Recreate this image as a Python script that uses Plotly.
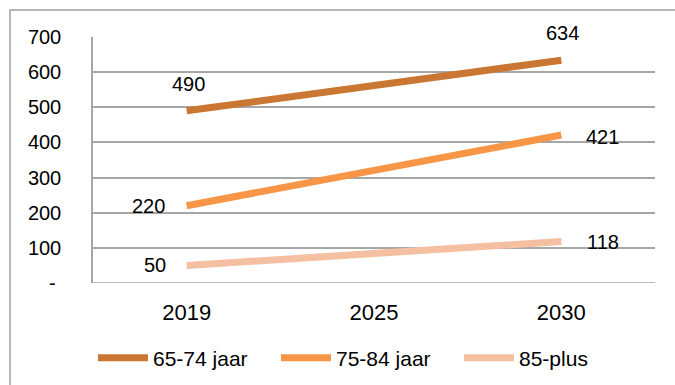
import plotly.graph_objects as go

years = ["2019", "2025", "2030"]
age_groups = ["65-74 jaar", "75-84 jaar", "85-plus"]
values_65_74 = [490, 562, 634]
values_75_84 = [220, 318, 421]
values_85_plus = [50, 85, 118]
colors = ["#C97732", "#F79646", "#F5BFA2"]
y_ticks = [0, 100, 200, 300, 400, 500, 600, 700]
y_tick_labels = ["-\u00a0", "100", "200", "300", "400", "500", "600", "700"]

series = [values_65_74, values_75_84, values_85_plus]

FONT = "Liberation Sans, Arial, sans-serif"

fig = go.Figure()
for name, vals, col in zip(age_groups, series, colors):
    fig.add_trace(go.Scatter(
        x=years, y=vals, name=name, mode="lines",
        line=dict(color=col, width=7, shape="linear"),
        hoverinfo="skip",
    ))

# value labels at the first and last year: (series, index, xshift, yshift)
label_specs = [
    (0, 0, 2, 27), (0, 2, 1, 27),
    (1, 0, -38, 0), (1, 2, 41, -2),
    (2, 0, -32, 0), (2, 2, 42, 0),
]
for s, i, dx, dy in label_specs:
    fig.add_annotation(
        xref="x", yref="y", x=i, y=series[s][i], text=str(series[s][i]),
        showarrow=False, xshift=dx, yshift=dy,
        xanchor="center", yanchor="middle",
        font=dict(family=FONT, size=20, color="#000000"),
    )

# outer chart frame
fig.add_shape(type="rect", xref="paper", yref="paper",
              x0=-0.1477, x1=1.06, y0=-0.46, y1=1.1098,
              line=dict(color="#A0A0A0", width=1.5), layer="below")

fig.update_layout(
    width=675, height=385,
    margin=dict(l=93, r=20, t=37, b=102, autoexpand=False),
    paper_bgcolor="white", plot_bgcolor="white",
    font=dict(family=FONT, size=20, color="#000000"),
    showlegend=True,
    legend=dict(
        orientation="h", x=0.0, xanchor="left",
        yref="container", y=0.07, yanchor="middle",
        font=dict(family=FONT, size=21, color="#000000"),
        itemwidth=50, tracegroupgap=0,
        entrywidth=118, entrywidthmode="pixels",
    ),
    xaxis=dict(
        type="category", range=[-0.5, 2.5], showgrid=False,
        zeroline=False, showline=False, ticks="",
        ticklabelstandoff=14,
        tickfont=dict(family=FONT, size=22),
    ),
    yaxis=dict(
        range=[0, 700], tickvals=y_ticks, ticktext=y_tick_labels,
        showgrid=True, gridcolor="#A6A6A6", gridwidth=1.5,
        zeroline=False, showline=True, linecolor="#A6A6A6", linewidth=1.5,
        ticks="", ticklabelstandoff=26,
        tickfont=dict(family=FONT, size=20),
    ),
)
# bottom gridline at 0 drawn explicitly
fig.add_shape(type="line", xref="paper", yref="y", x0=0, x1=1, y0=0, y1=0,
              line=dict(color="#A6A6A6", width=1.5), layer="below")

fig.write_html("out.html")
